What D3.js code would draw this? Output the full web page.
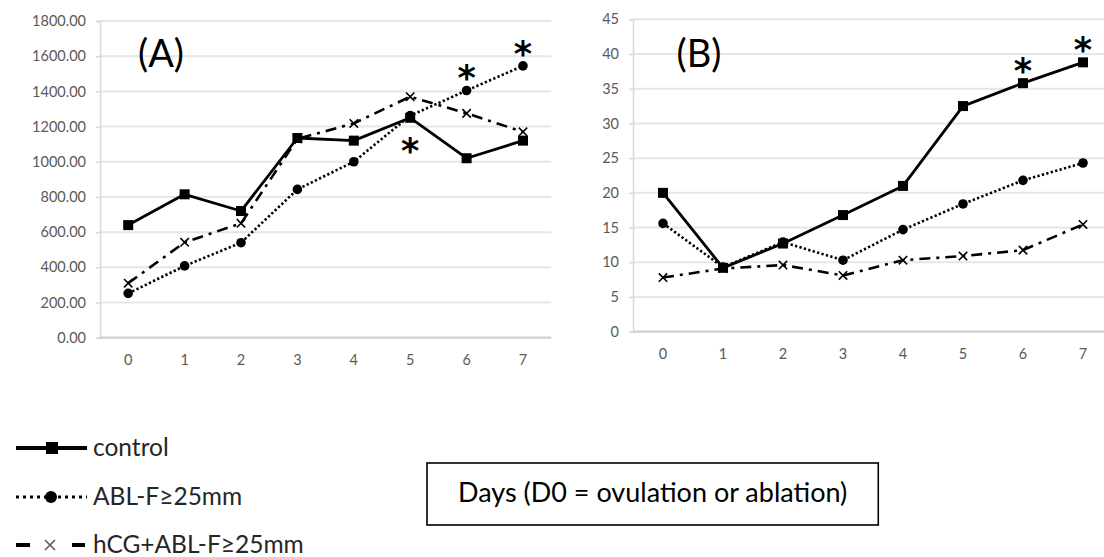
<!DOCTYPE html>
<html>
<head>
<meta charset="utf-8">
<script src="https://cdn.jsdelivr.net/npm/d3@7"></script>
<style>
  body { margin: 0; background: #fff; }
  svg { display: block; }
  text { font-family: Lato, "Open Sans", sans-serif; }
</style>
</head>
<body>
<svg id="fig" width="1104" height="557"></svg>
<script>
// ---- data ----
const days = [0, 1, 2, 3, 4, 5, 6, 7];
const seriesNames = ["control", "ABL-F≥25mm", "hCG+ABL-F≥25mm"];

// Panel (A)
const aTicks = [0, 200, 400, 600, 800, 1000, 1200, 1400, 1600, 1800];
const aControl = [640, 815, 720, 1135, 1120, 1250, 1020, 1120];
const aAbl     = [252, 408, 540, 843, 1000, 1262, 1405, 1545];
const aHcg     = [310, 542, 650, 1130, 1218, 1370, 1275, 1170];
const aStars = [
  { series: 0, day: 5, side: "below" },
  { series: 1, day: 6, side: "above" },
  { series: 1, day: 7, side: "above" }
];

// Panel (B)
const bTicks = [0, 5, 10, 15, 20, 25, 30, 35, 40, 45];
const bControl = [20.0, 9.2, 12.7, 16.8, 21.0, 32.5, 35.8, 38.8];
const bAbl     = [15.6, 9.3, 12.9, 10.3, 14.7, 18.4, 21.8, 24.3];
const bHcg     = [7.8, 9.1, 9.6, 8.1, 10.3, 10.9, 11.75, 15.45];
const bStars = [
  { series: 0, day: 6, side: "above" },
  { series: 0, day: 7, side: "above" }
];

const xAxisNote = "Days (D0 = ovulation or ablation)";

// ---- drawing ----
const svg = d3.select("#fig");
const axisGrey = "#595959";

const styles = [
  { width: 2.8, dash: null, marker: "square" },
  { width: 2.6, dash: "2.3 2.3", marker: "circle" },
  { width: 2.6, dash: "11 6 3 6", marker: "cross" }
];

function drawMarker(g, type, x, y) {
  if (type === "square") {
    g.append("rect").attr("x", x - 5).attr("y", y - 5).attr("width", 10).attr("height", 10).attr("fill", "#000");
  } else if (type === "circle") {
    g.append("circle").attr("cx", x).attr("cy", y).attr("r", 4.8).attr("fill", "#000");
  } else {
    const s = 4.2;
    g.append("path")
      .attr("d", `M${x - s},${y - s}L${x + s},${y + s}M${x - s},${y + s}L${x + s},${y - s}`)
      .attr("stroke", "#000").attr("stroke-width", 1.6).attr("fill", "none");
  }
}

function panel(opts) {
  const g = svg.append("g");
  const x = d3.scaleBand().domain(days).range([opts.left, opts.left + opts.step * days.length]);
  const y = d3.scaleLinear().domain([0, opts.max]).range([opts.bottom, opts.top]);
  const cx = d => x(d) + x.bandwidth() / 2;
  const right = Math.min(opts.left + opts.step * days.length, 1104);

  g.selectAll("line.grid").data(opts.ticks.filter(t => t > 0)).join("line")
    .attr("x1", opts.left).attr("x2", right)
    .attr("y1", d => y(d)).attr("y2", d => y(d))
    .attr("stroke", "#e6e6e6").attr("stroke-width", 2);

  // y axis with short outer ticks
  const yAxis = d3.axisLeft(y).tickValues(opts.ticks).tickSize(4).tickPadding(10)
    .tickFormat(opts.fmt);
  const ya = g.append("g").attr("transform", `translate(${opts.left},0)`).call(yAxis);
  ya.select(".domain").attr("stroke", "#d9d9d9").attr("stroke-width", 1.5);
  ya.selectAll(".tick line").attr("stroke", "#d9d9d9").attr("stroke-width", 1.5);
  ya.selectAll(".tick text").attr("fill", axisGrey).attr("font-size", 14.5)
    .style("font-family", "Lato, 'Open Sans', sans-serif");

  // x axis: baseline and day labels
  const xa = g.append("g").attr("transform", `translate(0,${opts.bottom})`)
    .call(d3.axisBottom(x).tickSize(0).tickPadding(17));
  xa.select(".domain").attr("d", `M${opts.left},0H${right}`).attr("stroke", "#d0d0d0").attr("stroke-width", 2.2);
  xa.selectAll(".tick text").attr("fill", axisGrey).attr("font-size", 14.5)
    .style("font-family", "Lato, 'Open Sans', sans-serif");

  const line = d3.line().x((d, i) => cx(days[i])).y(d => y(d));
  const order = [2, 1, 0];
  order.forEach(si => {
    const st = styles[si];
    g.append("path").datum(opts.series[si])
      .attr("d", line).attr("fill", "none").attr("stroke", "#000")
      .attr("stroke-width", st.width)
      .attr("stroke-dasharray", st.dash)
      .attr("stroke-linejoin", "round");
    const mg = g.append("g");
    opts.series[si].forEach((v, i) => drawMarker(mg, st.marker, cx(days[i]), y(v)));
  });

  // significance asterisks
  opts.stars.forEach(s => {
    const py = y(opts.series[s.series][s.day]);
    const cy = s.side === "above" ? py - 19 : py + 26;
    g.append("text").attr("x", cx(s.day)).attr("y", cy + 19)
      .attr("text-anchor", "middle").attr("font-size", 35).attr("font-weight", "bold")
      .attr("fill", "#000")
      .style("font-family", "'DejaVu Sans', sans-serif")
      .text("*");
  });

  g.append("text").attr("x", opts.labelX).attr("y", 67)
    .attr("text-anchor", "middle").attr("font-size", 38).attr("fill", "#000")
    .text(opts.label);
}

panel({
  left: 100, step: 56.4, top: 21, bottom: 337.7, max: 1800,
  ticks: aTicks, fmt: d3.format(".2f"),
  series: [aControl, aAbl, aHcg], stars: aStars, label: "(A)", labelX: 161
});
panel({
  left: 633, step: 60, top: 19.3, bottom: 331.7, max: 45,
  ticks: bTicks, fmt: d3.format("d"),
  series: [bControl, bAbl, bHcg], stars: bStars, label: "(B)", labelX: 699
});

// ---- legend ----
const legend = svg.append("g");
const rowY = [448, 497, 545];
seriesNames.forEach((name, i) => {
  const yy = rowY[i];
  if (i === 2) {
    legend.append("line").attr("x1", 16).attr("x2", 30).attr("y1", yy).attr("y2", yy)
      .attr("stroke", "#000").attr("stroke-width", 4);
    legend.append("line").attr("x1", 72).attr("x2", 85).attr("y1", yy).attr("y2", yy)
      .attr("stroke", "#000").attr("stroke-width", 4);
    legend.append("path")
      .attr("d", `M45,${yy - 5}L55,${yy + 5}M45,${yy + 5}L55,${yy - 5}`)
      .attr("stroke", "#555").attr("stroke-width", 1.5);
  } else {
    legend.append("line").attr("x1", 16).attr("x2", 87).attr("y1", yy).attr("y2", yy)
      .attr("stroke", "#000").attr("stroke-width", i === 0 ? 4 : 3.2)
      .attr("stroke-dasharray", i === 1 ? "3 4" : null);
    if (i === 0) {
      legend.append("rect").attr("x", 46).attr("y", yy - 6).attr("width", 12).attr("height", 12).attr("fill", "#000");
    } else {
      legend.append("circle").attr("cx", 51).attr("cy", yy).attr("r", 6).attr("fill", "#000");
    }
  }
  legend.append("text").attr("x", 93).attr("y", yy + 8).attr("font-size", 24.5).attr("fill", "#262626")
    .text(name);
});

// ---- axis note box ----
const note = svg.append("g");
const noteText = note.append("text").attr("x", 458).attr("y", 502)
  .attr("font-size", 27).attr("fill", "#000").text(xAxisNote);
const tw = noteText.node().getComputedTextLength();
note.insert("rect", "text").attr("x", 427).attr("y", 463)
  .attr("width", tw + 62).attr("height", 62)
  .attr("fill", "#fff").attr("stroke", "#000").attr("stroke-width", 1.6);
</script>
</body>
</html>
